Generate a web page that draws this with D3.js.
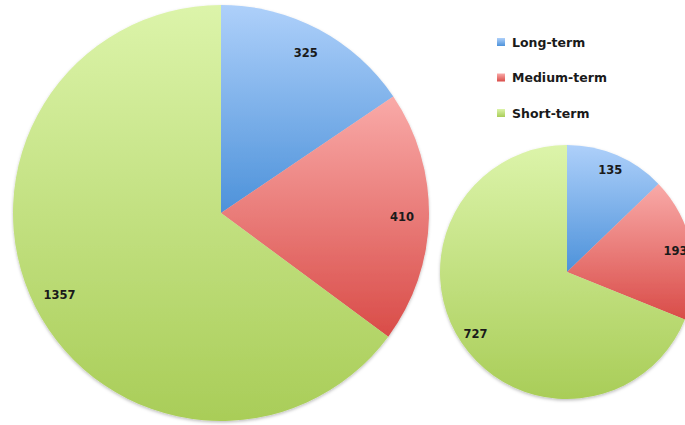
<!DOCTYPE html>
<html lang="en">
<head>
    <meta charset="UTF-8">
    <title>Two pies</title>
    <script src="https://cdnjs.cloudflare.com/ajax/libs/d3/7.8.5/d3.min.js"></script>
    <style>
        body { margin: 0; background: #fff; }
        .lbl { font-family: "DejaVu Sans", sans-serif; font-weight: bold; font-size: 11.5px; fill: #1a1a1a; }
        .leg { font-family: "DejaVu Sans", sans-serif; font-weight: bold; font-size: 12.5px; fill: #1a1a1a; }
    </style>
</head>
<body>
<svg width="685" height="425"></svg>
<script>
    var categories = ["Long-term", "Medium-term", "Short-term"];
    var seriesA = [325, 410, 1357];
    var seriesB = [135, 193, 727];

    // light (top) / dark (bottom) per category
    var lightColors = ["#aed0fa", "#f9aaa8", "#dcf4aa"];
    var darkColors = ["#4d92da", "#d94c48", "#a9cd58"];

    var svg = d3.select("svg");
    var defs = svg.append("defs");

    categories.forEach(function (c, i) {
        var g = defs.append("linearGradient")
                .attr("id", "grad" + i)
                .attr("x1", 0).attr("y1", 0).attr("x2", 0).attr("y2", 1);
        g.append("stop").attr("offset", "0%").attr("stop-color", lightColors[i]);
        g.append("stop").attr("offset", "100%").attr("stop-color", darkColors[i]);
    });

    var shadow = defs.append("filter").attr("id", "shadow")
            .attr("x", "-10%").attr("y", "-10%").attr("width", "120%").attr("height", "120%");
    shadow.append("feDropShadow")
            .attr("dx", 0).attr("dy", 1.5).attr("stdDeviation", 1.5)
            .attr("flood-color", "#000").attr("flood-opacity", 0.25);

    var pie = d3.pie().sort(null).value(function (d) { return d; });

    function drawPie(values, cx, cy, r) {
        var g = svg.append("g").attr("transform", "translate(" + cx + "," + cy + ")");
        var arc = d3.arc().innerRadius(0).outerRadius(r);
        var labelArc = d3.arc().innerRadius(r * 0.87).outerRadius(r * 0.87);
        var arcs = pie(values);

        g.append("g").attr("filter", "url(#shadow)")
                .selectAll("path")
                .data(arcs)
                .enter()
                .append("path")
                .attr("d", arc)
                .attr("fill", function (d, i) { return "url(#grad" + i + ")"; });

        g.selectAll("text")
                .data(arcs)
                .enter()
                .append("text")
                .classed("lbl", true)
                .attr("transform", function (d) { return "translate(" + labelArc.centroid(d) + ")"; })
                .attr("text-anchor", "middle")
                .attr("dy", "0.35em")
                .text(function (d) { return d.data; });
    }

    drawPie(seriesA, 221, 213, 208);
    drawPie(seriesB, 567, 272, 127);

    // legend
    var legend = svg.append("g").attr("transform", "translate(497,42)");
    var rows = legend.selectAll("g")
            .data(categories)
            .enter()
            .append("g")
            .attr("transform", function (d, i) { return "translate(0," + i * 35.5 + ")"; });

    rows.append("rect")
            .attr("x", 0).attr("y", -4)
            .attr("width", 8).attr("height", 8)
            .attr("fill", function (d, i) { return "url(#grad" + i + ")"; });

    rows.append("text")
            .classed("leg", true)
            .attr("x", 15)
            .attr("dy", "0.38em")
            .text(function (d) { return d; });
</script>
</body>
</html>
